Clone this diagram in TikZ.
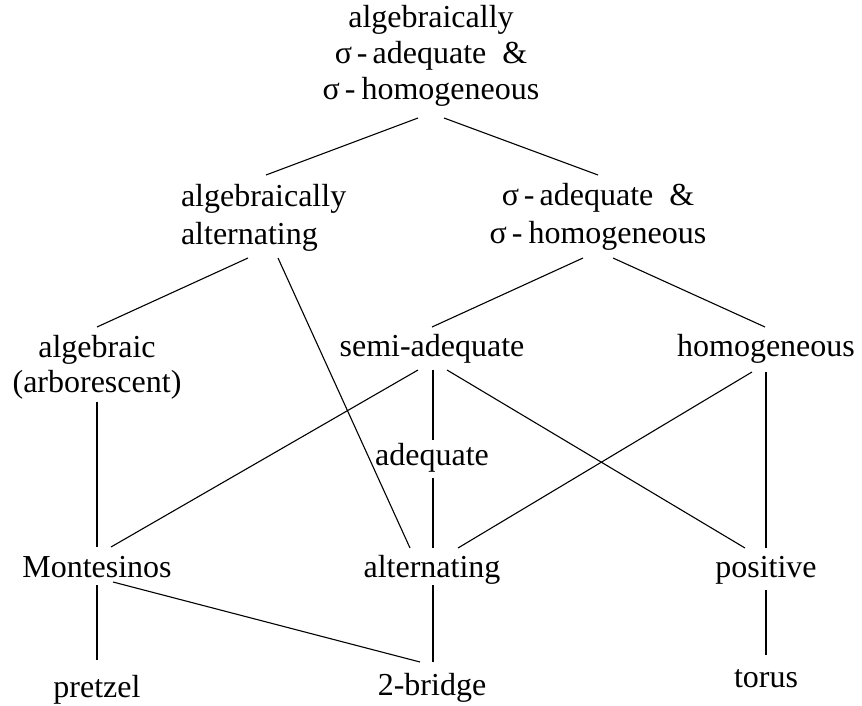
\documentclass[tikz,border=0pt]{standalone}
\usepackage{fontspec}
\setmainfont{Liberation Serif}
\begin{document}
\begin{tikzpicture}[x=1pt,y=-1pt,
  lbl/.style={inner sep=0pt, outer sep=0pt, anchor=base, font=\fontsize{32}{38}\selectfont},
  lblw/.style={lbl, anchor=base west},
  edge/.style={line width=1.1pt, black}]
\useasboundingbox (0,0) rectangle (862,706);
% top
\node[lbl] (top1) at (431,28) {algebraically};
\node[lbl] (top2) at (431,64) {σ\kern5pt-\kern5pt adequate\kern16pt\&};
\node[lbl] (top3) at (431,100) {σ\kern5pt-\kern6pt homogeneous};
% second row
\node[lblw] (aa1) at (181,206) {algebraically};
\node[lblw] (aa2) at (181,244) {alternating};
\node[lbl] (sa1) at (598,205) {σ\kern5pt-\kern5pt adequate\kern16pt\&};
\node[lbl] (sa2) at (598,243) {σ\kern5pt-\kern6pt homogeneous};
% third row
\node[lbl] (alg1) at (97,357) {algebraic};
\node[lbl] (alg2) at (97,392) {(arborescent)};
\node[lbl] (semi) at (432,356) {semi-adequate};
\node[lbl] (hom) at (766,356) {homogeneous};
\node[lbl] (adeq) at (432,465) {adequate};
% fourth row
\node[lbl] (mont) at (97,577) {Montesinos};
\node[lbl] (alt) at (432,577) {alternating};
\node[lbl] (pos) at (766,577) {positive};
% bottom
\node[lbl] (pretz) at (97,697) {pretzel};
\node[lbl] (bridge) at (432,695) {2-bridge};
\node[lbl] (torus) at (766,687) {torus};
% connectors
\draw[edge] ([shift={(-13,18)}]top3.base) -- ([shift={(85,-31)}]aa1.base west);
\draw[edge] ([shift={(13,18)}]top3.base) -- ([shift={(0,-30)}]sa1.base);
\draw[edge] ([shift={(67,14)}]aa2.base west) -- ([shift={(0,-30)}]alg1.base);
\draw[edge] ([shift={(97,14)}]aa2.base west) -- ([shift={(-22,-29)}]alt.base);
\draw[edge] ([shift={(-15,15)}]sa2.base) -- ([shift={(0,-29)}]semi.base);
\draw[edge] ([shift={(15,15)}]sa2.base) -- ([shift={(-1,-29)}]hom.base);
\draw[edge] ([shift={(0,10)}]alg2.base) -- ([shift={(0,-30)}]mont.base);
\draw[edge] ([shift={(-14,14)}]semi.base) -- ([shift={(14,-30)}]mont.base);
\draw[edge] ([shift={(1,14)}]semi.base) -- ([shift={(1,-25)}]adeq.base);
\draw[edge] ([shift={(15,14)}]semi.base) -- ([shift={(-21,-29)}]pos.base);
\draw[edge] ([shift={(-14,16)}]hom.base) -- ([shift={(26,-29)}]alt.base);
\draw[edge] ([shift={(0,16)}]hom.base) -- ([shift={(0,-29)}]pos.base);
\draw[edge] ([shift={(1,13)}]adeq.base) -- ([shift={(1,-29)}]alt.base);
\draw[edge] ([shift={(0,8)}]mont.base) -- ([shift={(0,-37)}]pretz.base);
\draw[edge] ([shift={(16,5)}]mont.base) -- ([shift={(-12,-33)}]bridge.base);
\draw[edge] ([shift={(1,8)}]alt.base) -- ([shift={(1,-33)}]bridge.base);
\draw[edge] ([shift={(0,13)}]pos.base) -- ([shift={(0,-32)}]torus.base);
\end{tikzpicture}
\end{document}
